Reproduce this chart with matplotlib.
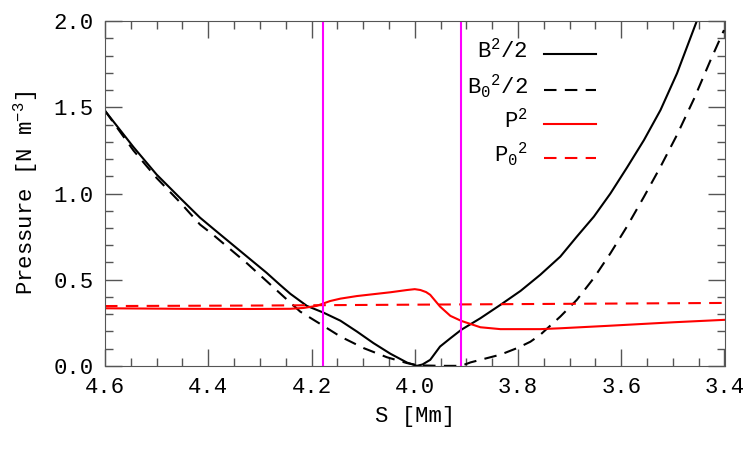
import matplotlib
matplotlib.use('Agg')
import matplotlib.pyplot as plt
from matplotlib.ticker import MultipleLocator, FormatStrFormatter

plt.rcParams['font.family'] = ['Liberation Mono', 'DejaVu Sans Mono']
plt.rcParams['mathtext.fontset'] = 'custom'
plt.rcParams['mathtext.rm'] = 'Liberation Mono'
plt.rcParams['mathtext.it'] = 'Liberation Mono'
plt.rcParams['mathtext.bf'] = 'Liberation Mono'

# B^2/2 (solid black)
s_b = [4.60, 4.545, 4.50, 4.455, 4.416, 4.390, 4.325, 4.287, 4.261, 4.241, 4.209,
       4.177, 4.144, 4.112, 4.080, 4.047, 4.015, 3.996, 3.985, 3.970, 3.951, 3.931,
       3.910, 3.873, 3.834, 3.795, 3.757, 3.718, 3.686, 3.653, 3.621, 3.589, 3.556,
       3.524, 3.492, 3.453, 3.44]
b2 = [1.48, 1.27, 1.11, 0.975, 0.86, 0.795, 0.634, 0.54, 0.47, 0.418, 0.348,
      0.309, 0.262, 0.199, 0.132, 0.070, 0.019, 0.0, 0.008, 0.035, 0.112, 0.16,
      0.209, 0.276, 0.354, 0.435, 0.528, 0.634, 0.75, 0.866, 1.0, 1.15, 1.31,
      1.484, 1.697, 2.006, 2.1]

# B0^2/2 (dashed black)
s_b0 = [4.60, 4.545, 4.50, 4.455, 4.416, 4.390, 4.325, 4.261, 4.222, 4.177, 4.144,
        4.099, 4.054, 4.015, 3.993, 3.95, 3.91, 3.892, 3.834, 3.80, 3.776, 3.757,
        3.718, 3.686, 3.653, 3.621, 3.589, 3.556, 3.524, 3.492, 3.459, 3.427, 3.401]
b02 = [1.48, 1.25, 1.09, 0.95, 0.82, 0.759, 0.595, 0.421, 0.315, 0.232, 0.17,
       0.103, 0.05, 0.016, 0.003, 0.0, 0.0, 0.02, 0.065, 0.105, 0.14, 0.18,
       0.286, 0.383, 0.51, 0.653, 0.808, 0.981, 1.155, 1.34, 1.55, 1.774, 1.948]

# P^2 (solid red)
s_p = [4.60, 4.45, 4.319, 4.241, 4.215, 4.190, 4.177, 4.164, 4.144, 4.112, 4.047,
       4.015, 4.000, 3.989, 3.978, 3.970, 3.951, 3.931, 3.910, 3.873, 3.834, 3.757,
       3.718, 3.627, 3.498, 3.40]
p2 = [0.334, 0.331, 0.330, 0.331, 0.336, 0.348, 0.362, 0.376, 0.39, 0.405, 0.427,
      0.440, 0.445, 0.440, 0.428, 0.412, 0.344, 0.29, 0.261, 0.224, 0.213, 0.213,
      0.218, 0.232, 0.253, 0.267]

# P0^2 (dashed red)
s_p0 = [4.60, 4.30, 4.00, 3.70, 3.40]
p02 = [0.347, 0.350, 0.355, 0.360, 0.365]

# boundaries (magenta)
s_mark = [4.178, 3.910]

fig = plt.figure(figsize=(7.5, 4.5), dpi=100)
ax = fig.add_axes([0.14, 0.187, 0.826, 0.766])

ax.plot(s_b, b2, color='black', lw=1.5)
ax.plot(s_b0, b02, color='black', lw=1.5, dashes=(6, 4))
ax.plot(s_p, p2, color='red', lw=1.5)
ax.plot(s_p0, p02, color='red', lw=1.5, dashes=(6, 4))
for s in s_mark:
    ax.axvline(s, color='#ff00ff', lw=1.5)

ax.set_xlim(4.6, 3.4)
ax.set_ylim(0, 2.0)
ax.xaxis.set_major_locator(MultipleLocator(0.2))
ax.xaxis.set_minor_locator(MultipleLocator(0.05))
ax.yaxis.set_major_locator(MultipleLocator(0.5))
ax.yaxis.set_minor_locator(MultipleLocator(0.1))
ax.xaxis.set_major_formatter(FormatStrFormatter('%.1f'))
ax.yaxis.set_major_formatter(FormatStrFormatter('%.1f'))
ax.tick_params(which='both', direction='in', top=True, right=True,
               color='#555555', width=1, labelsize=16, labelcolor='black')
ax.tick_params(which='major', length=12, pad=8)
ax.tick_params(which='minor', length=6)
for sp in ax.spines.values():
    sp.set_color('#555555')

ax.set_xlabel('S [Mm]', fontsize=16, labelpad=6)
ax.set_ylabel(r'Pressure [N m$^{-3}$]', fontsize=16, labelpad=10)

# legend drawn IDL-style: label on the left, line sample on the right
labels = [r'B$^2$/2', r'B$_0{}^2$/2', r'P$^2$', r'P$_0{}^2$']
colors = ['black', 'black', 'red', 'red']
styles = ['-', '--', '-', '--']
rows = [0.904, 0.80, 0.701, 0.603]
for lab, c, ls, y in zip(labels, colors, styles, rows):
    ax.text(0.683, y + 0.01, lab, transform=ax.transAxes, ha='right', va='center',
            fontsize=16)
    ln, = ax.plot([0.708, 0.792], [y, y], transform=ax.transAxes, color=c, lw=1.5)
    if ls == '--':
        ln.set_dashes((6, 4))

fig.savefig('out.png', dpi=100)
